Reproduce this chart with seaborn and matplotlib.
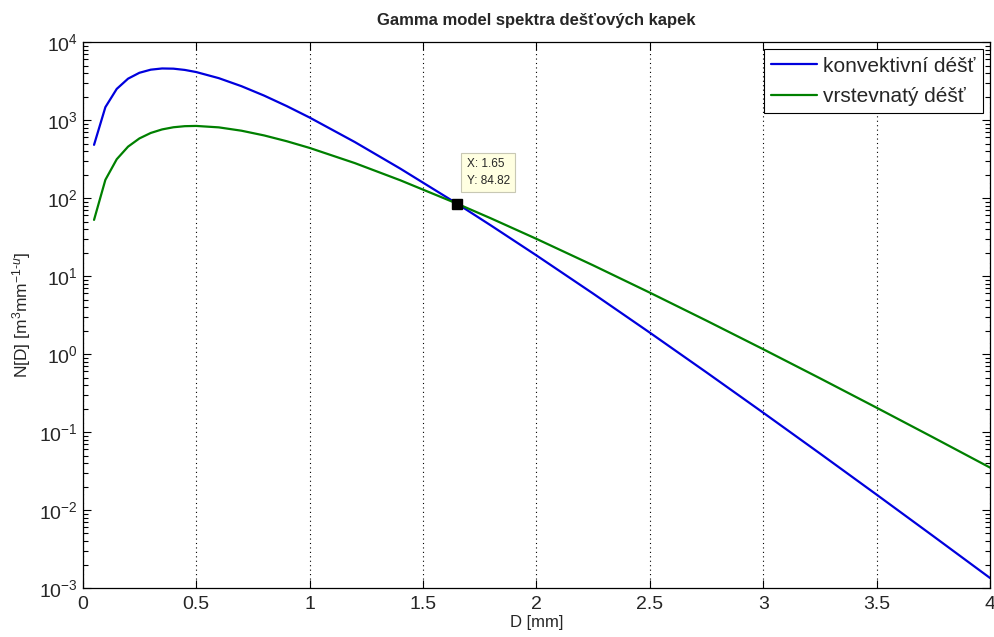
import matplotlib
matplotlib.use("Agg")
import matplotlib.pyplot as plt
import matplotlib.ticker as mticker
import seaborn as sns
import pandas as pd

# ---- data ----
D_mm = [0.05, 0.1, 0.15, 0.2, 0.25, 0.3, 0.35, 0.4, 0.45, 0.5, 0.6, 0.7, 0.8, 0.9,
        1.0, 1.2, 1.4, 1.65, 1.8, 2.0, 2.25, 2.5, 2.75, 3.0, 3.25, 3.5, 3.75, 4.0]
konvektivni = [480.6, 1463, 2506, 3392, 4035, 4423, 4583, 4556, 4390, 4126, 3443, 2716,
               2056, 1507, 1078, 521.6, 238.4, 84.82, 44.44, 18.42, 5.962, 1.881, 0.5818,
               0.1770, 0.05312, 0.01575, 0.004621, 0.001344]
vrstevnaty = [52.46, 171.2, 314.3, 456.0, 581.2, 682.9, 758.2, 807.9, 834.2, 840.3, 805.4,
              729.8, 634.6, 534.5, 439.3, 280.3, 169.0, 84.82, 54.84, 30.0, 13.73, 6.126,
              2.680, 1.153, 0.4892, 0.2050, 0.08509, 0.03499]
series_names = ["konvektivní déšť", "vrstevnatý déšť"]
x_ticks = [0, 0.5, 1, 1.5, 2, 2.5, 3, 3.5, 4]
x_tick_labels = ["0", "0.5", "1", "1.5", "2", "2.5", "3", "3.5", "4"]
tip_x = 1.65
tip_y = 84.82

df = pd.DataFrame({
    "D": D_mm * 2,
    "N": konvektivni + vrstevnaty,
    "typ": [series_names[0]] * len(D_mm) + [series_names[1]] * len(D_mm),
})

sns.set_style("ticks")
plt.rcParams["font.family"] = ["Liberation Sans", "DejaVu Sans"]
plt.rcParams["mathtext.fontset"] = "custom"
plt.rcParams["mathtext.rm"] = "Liberation Sans"
plt.rcParams["mathtext.it"] = "Liberation Sans:italic"

fig = plt.figure(figsize=(9.94, 6.37), dpi=100)
ax = fig.add_axes([0.0832, 0.0769, 0.9128, 0.8571])

sns.lineplot(data=df, x="D", y="N", hue="typ",
             palette={series_names[0]: "#0000dd", series_names[1]: "#008000"},
             linewidth=1.6, ax=ax, sort=False)

ax.set_yscale("log")
ax.set_xlim(0, 4)
ax.set_ylim(1e-3, 1e4)
ax.set_xticks(x_ticks)
ax.set_xticklabels(x_tick_labels)
ax.yaxis.set_major_locator(mticker.LogLocator(base=10, numticks=12))
ax.yaxis.set_minor_locator(mticker.LogLocator(base=10, subs=range(2, 10), numticks=12))
ax.yaxis.set_minor_formatter(mticker.NullFormatter())

ax.tick_params(which="both", direction="in", top=True, right=True, labelsize=14,
               color="black")
ax.tick_params(which="major", length=6, width=0.8)
ax.tick_params(which="minor", length=3.5, width=0.8)
ax.tick_params(axis="x", pad=6)
for s in ax.spines.values():
    s.set_color("black")
    s.set_linewidth(0.9)

ax.xaxis.grid(True, which="major", linestyle=(0, (1, 3)), color="black", linewidth=0.8)
ax.yaxis.grid(False)

ax.set_title("Gamma model spektra dešťových kapek", fontsize=12, fontweight="bold",
             pad=12)
ax.set_xlabel("D [mm]", fontsize=12, labelpad=1)
ax.set_ylabel(r"N[D] [m$^{3}$mm$^{-1\text{-}u}$]", fontsize=12.5, labelpad=4)

leg = ax.legend(loc="upper right", fontsize=15, frameon=True, fancybox=False,
                edgecolor="black", framealpha=1, handlelength=2.2, handletextpad=0.3,
                borderpad=0.35, labelspacing=0.55, borderaxespad=0.35, title=None)
leg.get_frame().set_linewidth(0.8)

# data tip
ax.plot([tip_x], [tip_y], marker="s", color="black", markersize=7, linestyle="none")
ax.annotate(f"X: {tip_x}\nY: {tip_y}", xy=(tip_x, tip_y), xytext=(7, 12),
            textcoords="offset points", fontsize=8.5, va="bottom", ha="left",
            linespacing=1.5,
            bbox=dict(boxstyle="square,pad=0.45", facecolor="#ffffe1",
                      edgecolor="#c8c8b4", linewidth=0.8))

fig.savefig("out.png", dpi=100)
